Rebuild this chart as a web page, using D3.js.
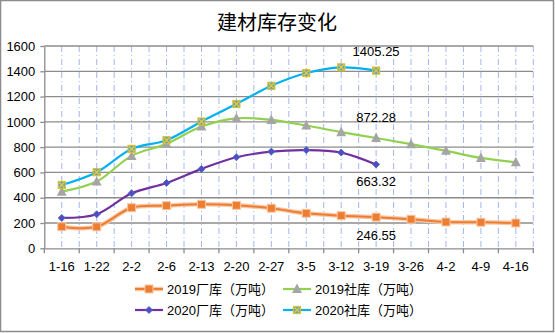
<!DOCTYPE html>
<html><head><meta charset="utf-8">
<script src="https://cdn.jsdelivr.net/npm/d3@7/dist/d3.min.js"></script>
<style>body{margin:0;background:#fff}svg{display:block}</style>
</head><body>
<svg id="c" width="555" height="333"></svg>
<script>
const title = "建材库存变化";
const categories = ["1-16","1-22","2-2","2-6","2-13","2-20","2-27","3-5","3-12","3-19","3-26","4-2","4-9","4-16"];
const yTicks = [0,200,400,600,800,1000,1200,1400,1600];
const factory2019 = [171,170,321,337,348,340,317,277,258,246.55,230,208,206,200];
const factory2020 = [240,269,435,517,628,720,765,777,757,663.32];
const social2019 = [448,528,731,826,963,1028,1016,971,919,872.28,824,771,715,681];
const social2020 = [501,602,786,855,1003,1141,1285,1386,1431,1405.25];
const seriesNames = ["2019厂库（万吨）","2019社库（万吨）","2020厂库（万吨）","2020社库（万吨）"];
const labels = [
  {series:3, idx:9, text:"1405.25", dy:-15},
  {series:1, idx:9, text:"872.28", dy:-16},
  {series:2, idx:9, text:"663.32", dy:22},
  {series:0, idx:9, text:"246.55", dy:-9}
];

const svg = d3.select("#c");
const W = 555, H = 333;
const L = 44.3, R = 533.3, T = 46, B = 248.3;
const font = "'Liberation Sans', Arial, 'Noto Sans CJK SC', sans-serif";

svg.append("rect").attr("x",0.5).attr("y",0.5).attr("width",W-2).attr("height",H-2)
  .attr("fill","#fff").attr("stroke","#8c8c8c").attr("stroke-width",1.5);

svg.append("text").attr("x",277).attr("y",30).attr("text-anchor","middle")
  .attr("font-family","'Noto Sans CJK SC', sans-serif").attr("font-size",20).attr("fill","#000").text(title);

const x = d3.scaleBand().domain(categories).range([L,R]).paddingInner(0).paddingOuter(0);
const bw = x.bandwidth();
const cx = c => x(c) + bw/2;
const y = d3.scaleLinear().domain([0,1600]).range([B,T]);

// vertical gridlines at centers and boundaries
const vlines = [];
categories.forEach((c,i)=>{ vlines.push(cx(c)); vlines.push(x(c)+bw); });
svg.append("g").selectAll("line").data(vlines).join("line")
  .attr("x1",d=>d).attr("x2",d=>d).attr("y1",T).attr("y2",B)
  .attr("stroke","#a3b5ee").attr("stroke-width",1).attr("stroke-dasharray","6,3,1,3");

// horizontal gridlines
svg.append("g").selectAll("line").data(yTicks.filter(v=>v>0)).join("line")
  .attr("x1",L).attr("x2",R).attr("y1",d=>y(d)).attr("y2",d=>y(d))
  .attr("stroke","#8c8c8c").attr("stroke-width",1.3);

// axes
const yAxis = d3.axisLeft(y).tickValues(yTicks).tickFormat(d3.format("d")).tickSize(4).tickSizeOuter(0);
const gy = svg.append("g").attr("transform",`translate(${L},0)`).call(yAxis);
gy.select(".domain").attr("stroke","#8c8c8c").attr("stroke-width",1.3);
gy.selectAll(".tick line").attr("stroke","#8c8c8c").attr("stroke-width",1.3);
gy.selectAll(".tick text").attr("font-family",font).attr("font-size",13).attr("fill","#000").attr("x",-9);

const xAxis = d3.axisBottom(x).tickSize(0).tickSizeOuter(0);
const gx = svg.append("g").attr("transform",`translate(0,${B})`).call(xAxis);
gx.select(".domain").attr("stroke","#8c8c8c").attr("stroke-width",1.3);
gx.selectAll(".tick text").attr("font-family",font).attr("font-size",13).attr("fill","#000").attr("y",13);
// boundary tick marks
svg.append("g").selectAll("line").data(categories.map(c=>x(c)+bw).concat([L])).join("line")
  .attr("x1",d=>d).attr("x2",d=>d).attr("y1",B).attr("y2",B+5)
  .attr("stroke","#8c8c8c").attr("stroke-width",1.3);

const curve = d3.curveCatmullRom.alpha(0.5);
const line = d3.line().x((d,i)=>cx(categories[i])).y(d=>y(d)).curve(curve);

const colors = {o:"#ED7D31", g:"#92D050", p:"#7030A0", c:"#00B0F0"};

function markerSquare(g, px, py, s, fill, stroke){
  g.append("rect").attr("x",px-s/2).attr("y",py-s/2).attr("width",s).attr("height",s)
   .attr("fill",fill).attr("stroke",stroke).attr("stroke-width",1);
}
function markerTri(g, px, py, s, fill){
  g.append("path").attr("d",`M${px},${py-s*0.6}L${px+s*0.55},${py+s*0.45}L${px-s*0.55},${py+s*0.45}Z`).attr("fill",fill);
}
function markerDiamond(g, px, py, s, fill, stroke){
  g.append("path").attr("d",`M${px},${py-s/2}L${px+s/2},${py}L${px},${py+s/2}L${px-s/2},${py}Z`)
   .attr("fill",fill).attr("stroke",stroke).attr("stroke-width",1);
}
function markerX(g, px, py, s){
  g.append("rect").attr("x",px-s/2).attr("y",py-s/2).attr("width",s).attr("height",s)
   .attr("fill","#4aa3df").attr("stroke","#d8c030").attr("stroke-width",1.2);
  g.append("path").attr("d",`M${px-s/2+1},${py-s/2+1}L${px+s/2-1},${py+s/2-1}M${px+s/2-1},${py-s/2+1}L${px-s/2+1},${py+s/2-1}`)
   .attr("stroke","#f0c828").attr("stroke-width",1.4);
}

// 2019 厂库
const gO = svg.append("g");
gO.append("path").attr("d",line(factory2019)).attr("fill","none").attr("stroke","#f8c9a6").attr("stroke-width",4.5);
gO.append("path").attr("d",line(factory2019)).attr("fill","none").attr("stroke",colors.o).attr("stroke-width",2);
factory2019.forEach((v,i)=>markerSquare(gO,cx(categories[i]),y(v),8,colors.o,"#f8c9a6"));

// 2019 社库
const gG = svg.append("g");
gG.append("path").attr("d",line(social2019)).attr("fill","none").attr("stroke",colors.g).attr("stroke-width",2.2);
social2019.forEach((v,i)=>markerTri(gG,cx(categories[i]),y(v),9,"#A5A5A5"));

// 2020 厂库
const gP = svg.append("g");
gP.append("path").attr("d",line(factory2020)).attr("fill","none").attr("stroke",colors.p).attr("stroke-width",2.2);
factory2020.forEach((v,i)=>markerDiamond(gP,cx(categories[i]),y(v),7,"#5a48c0","#4472C4"));

// 2020 社库
const gC = svg.append("g");
gC.append("path").attr("d",line(social2020)).attr("fill","none").attr("stroke",colors.c).attr("stroke-width",2.2);
social2020.forEach((v,i)=>markerX(gC,cx(categories[i]),y(v),7));

// data labels
const allSeries = [factory2019, social2019, factory2020, social2020];
svg.append("g").selectAll("text").data(labels).join("text")
  .attr("x",d=>cx(categories[d.idx]))
  .attr("y",d=>{
    if(d.series===0) return 240;
    return y(allSeries[d.series][d.idx]) + d.dy;
  })
  .attr("text-anchor","middle").attr("font-family",font).attr("font-size",13).attr("fill","#000")
  .text(d=>d.text);

// legend
const legend = [
  {name:seriesNames[0], x:135, y:289, color:colors.o, m:"sq"},
  {name:seriesNames[1], x:283, y:289, color:colors.g, m:"tri"},
  {name:seriesNames[2], x:135, y:310, color:colors.p, m:"dia"},
  {name:seriesNames[3], x:283, y:310, color:colors.c, m:"x"}
];
legend.forEach(d=>{
  const g = svg.append("g");
  if(d.m==="sq") g.append("line").attr("x1",d.x).attr("x2",d.x+28).attr("y1",d.y).attr("y2",d.y).attr("stroke","#f8c9a6").attr("stroke-width",4.5);
  g.append("line").attr("x1",d.x).attr("x2",d.x+28).attr("y1",d.y).attr("y2",d.y).attr("stroke",d.color).attr("stroke-width",d.m==="sq"?2:2.2);
  const mx = d.x+14;
  if(d.m==="sq") markerSquare(g,mx,d.y,8,colors.o,"#f8c9a6");
  if(d.m==="tri") markerTri(g,mx,d.y,9,"#A5A5A5");
  if(d.m==="dia") markerDiamond(g,mx,d.y,7,"#5a48c0","#4472C4");
  if(d.m==="x") markerX(g,mx,d.y,7);
  g.append("text").attr("x",d.x+32).attr("y",d.y+5).attr("font-family",font).attr("font-size",13).attr("fill","#000").text(d.name);
});
</script>
</body></html>
